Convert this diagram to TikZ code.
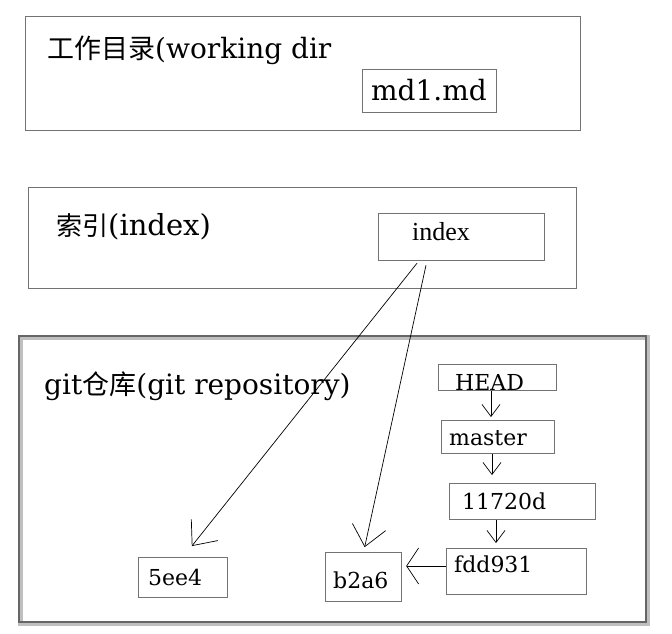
\documentclass[tikz,border=0pt]{standalone}
\usepackage{fontspec}
\setmainfont{DejaVu Serif}
\newfontfamily\cjk{Noto Sans CJK SC}
\newfontfamily\libs{Liberation Serif}
\usetikzlibrary{arrows.meta,calc}
\tikzset{
  box/.style={draw=black!55, line width=1.2pt, inner sep=0pt, anchor=north west},
  outer/.style={draw=black!55, line width=1.4pt, inner sep=0pt, anchor=north west},
  txt/.style={inner sep=0pt, anchor=base west},
  big/.style={font=\fontsize{28}{32}\selectfont},
  small/.style={font=\fontsize{22}{26}\selectfont},
  arr/.style={draw=black, line width=0.7pt, -{Straight Barb[length=12pt,width=18pt,line width=0.7pt]}},
  bigarr/.style={draw=black, line width=0.7pt, -{Straight Barb[length=20pt,width=34pt,line width=0.7pt]}},
  sidearr/.style={draw=black, line width=0.7pt, -{Straight Barb[length=12pt,width=36pt,line width=0.7pt]}}
}
\begin{document}
\begin{tikzpicture}[x=1pt,y=-1pt]
\useasboundingbox (0,0) rectangle (672,633);
% working dir
\node[outer, minimum width=555pt, minimum height=114pt] (wd) at (25,16) {};
\node[txt, big] (wdt) at (47,58) {{\cjk\fontsize{27}{32}\selectfont 工作目录}(working dir};
\node[box, minimum width=134pt, minimum height=43pt] (md) at (362,69) {};
\node[txt, big] (mdt) at (371,100) {md1.md};
% index
\node[outer, minimum width=548pt, minimum height=101pt] (ix) at (28,187) {};
\node[txt, font=\fontsize{29}{33}\selectfont] (ixt) at (56,235) {{\cjk\fontsize{26}{32}\selectfont 索引}(index)};
\node[box, minimum width=166pt, minimum height=47pt] (ib) at (378,213) {};
\node[txt, font=\libs\fontsize{26}{30}\selectfont] (ibt) at (412,240) {index};
% repository
\node[draw=black!25, line width=4.5pt, inner sep=0pt, anchor=north west, minimum width=627pt, minimum height=286pt] (rp) at (18,335) {};
\node[draw=black!60, line width=2pt, inner sep=0pt, anchor=north west, minimum width=627pt, minimum height=286pt] (rp2) at (18,335) {};
\node[txt, big] (rpt) at (44,394) {git{\cjk\fontsize{27}{32}\selectfont 仓库}(git repository)};
% HEAD
\node[box, minimum width=118pt, minimum height=26pt] (hd) at (438,364) {};
\begin{scope}
\clip (hd.north west) rectangle ($(hd.south east)+(0,-1.5)$);
\node[txt, small] (hdt) at (455,390) {HEAD};
\end{scope}
\node[box, minimum width=113pt, minimum height=33pt] (ms) at (441,420) {};
\node[txt, small] (mst) at (449,445) {master};
\node[box, minimum width=146pt, minimum height=36pt] (c1) at (449,483) {};
\node[txt, small] (c1t) at (462,509) {11720d};
\node[box, minimum width=140pt, minimum height=46pt] (c2) at (446,548) {};
\node[txt, small] (c2t) at (454,572) {fdd931};
\node[box, minimum width=76pt, minimum height=49pt] (b2) at (325,552) {};
\node[txt, small] (b2t) at (333,588) {b2a6};
\node[box, minimum width=89pt, minimum height=40pt] (e4) at (138,557) {};
\node[txt, small] (e4t) at (148,585) {5ee4};
% connectors
\draw[bigarr, shorten >=14pt] ($(ib.south west)+(39,2)$) -- (e4.north);
\draw[bigarr, shorten >=5pt] ($(ib.south west)+(48,4)$) -- (b2.north);
\draw[arr] ($(hd.south west)+(53,0)$) -- ($(ms.north west)+(50,-3)$);
\draw[arr] ($(ms.south west)+(51,0)$) -- ($(c1.north west)+(43,-8)$);
\draw[arr] ($(c1.south west)+(47,0)$) -- ($(c2.north west)+(50,-5)$);
\draw[sidearr] ($(c2.north west)+(0,18)$) -- ($(b2.north east)+(4,14)$);
\end{tikzpicture}
\end{document}
